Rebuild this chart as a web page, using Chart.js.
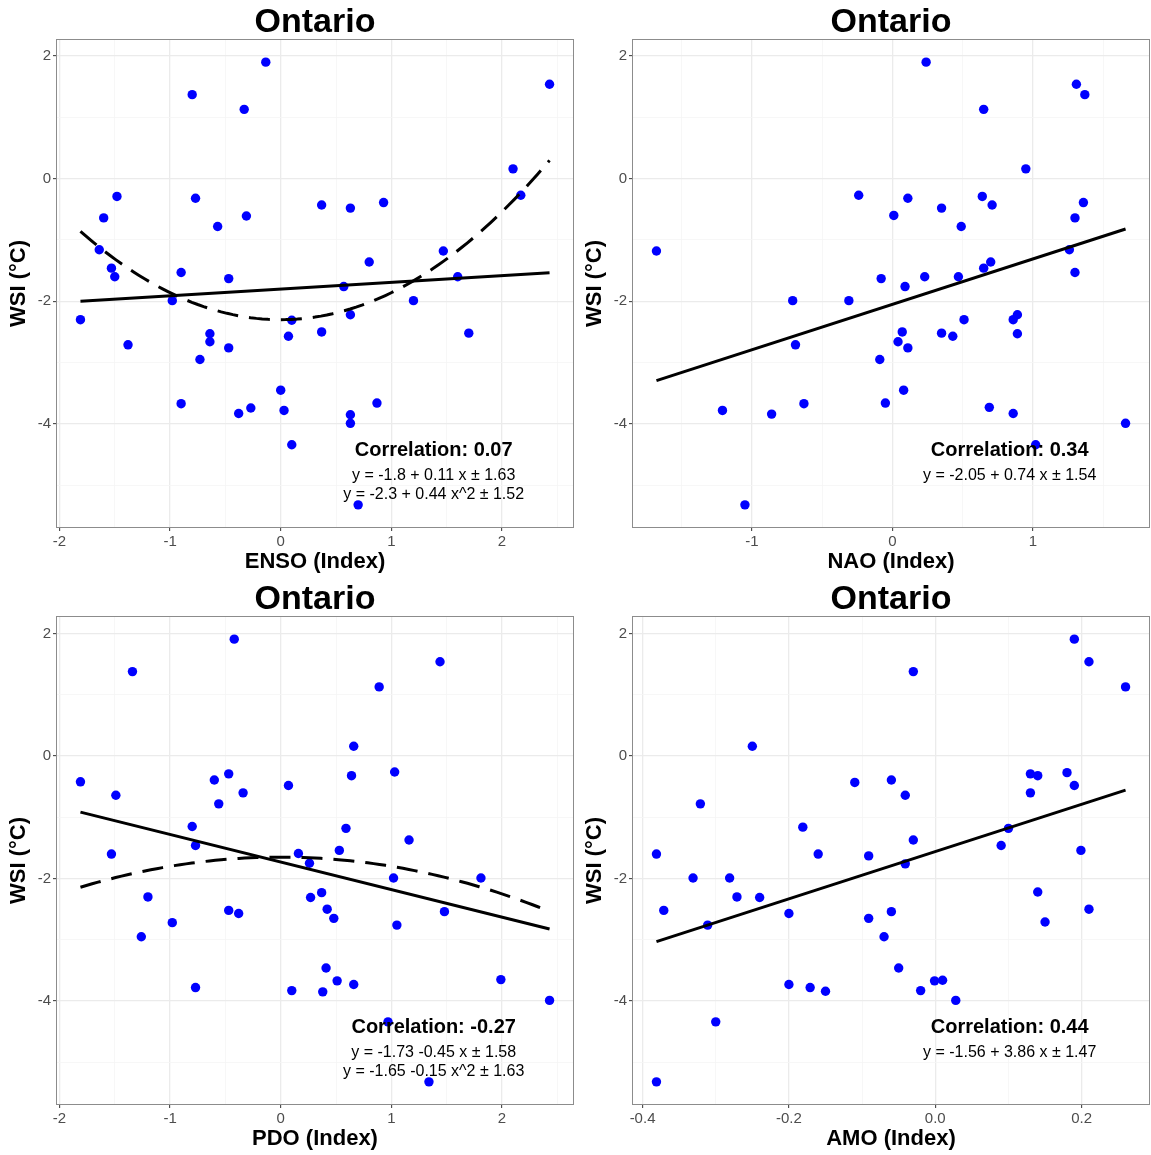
<!DOCTYPE html>
<html>
<head>
<meta charset="utf-8">
<script src="https://cdn.jsdelivr.net/npm/chart.js@4.4.1/dist/chart.umd.min.js"></script>
<style>
  body { margin: 0; background: #fff; width: 1151px; height: 1155px; position: relative; overflow: hidden; }
  .panel { position: absolute; width: 575px; height: 577px; }
</style>
</head>
<body>
<div class="panel" style="left:0;top:0"><canvas id="c-enso"></canvas></div>
<div class="panel" style="left:576px;top:0"><canvas id="c-nao"></canvas></div>
<div class="panel" style="left:0;top:577px"><canvas id="c-pdo"></canvas></div>
<div class="panel" style="left:576px;top:577px"><canvas id="c-amo"></canvas></div>
<script>
const FONT = "'Liberation Sans', Arial, sans-serif";

// ── Data ──────────────────────────────────────────────────────────────────────
const ensoX = [-0.135, -0.80, -0.33, -1.48, -1.60, -0.77, -0.31, -0.57, -1.64, -1.53, -1.50, -0.90, -0.47,
  2.43, 2.10, 2.17, 0.37, 0.63, 0.93, 1.47, 0.80, 1.60, 0.57, -1.81, -0.98, -1.38, -0.64, -0.64, -0.47,
  -0.73, 0.10, 0.07, -0.90, 0.00, -0.27, -0.38, 0.03, 0.10, 1.20, 0.63, 0.37, 1.70, 0.87, 0.63, 0.63, 0.70];
const ensoY = [1.90, 1.37, 1.13, -0.29, -0.64, -0.32, -0.61, -0.78, -1.16, -1.46, -1.60, -1.53, -1.63,
  1.54, 0.16, -0.27, -0.43, -0.48, -0.39, -1.18, -1.36, -1.60, -1.76, -2.30, -1.99, -2.71, -2.53, -2.66, -2.76,
  -2.95, -2.31, -2.57, -3.67, -3.45, -3.74, -3.83, -3.78, -4.34, -1.99, -2.22, -2.50, -2.52, -3.66, -3.85, -3.99, -5.32];

const naoX = [-0.24, -1.68, -0.08, 0.24, 0.65, 1.31, 1.37, 0.95, 0.11, 0.01, 0.35, 0.49, 0.64, 0.71, 1.30,
  1.36, 1.26, 1.30, 0.65, 0.70, 0.47, 0.23, 0.09, -0.71, -0.31, -0.69, -0.09, -0.05, -1.21, -0.86, -0.63,
  -1.05, 0.51, 0.86, 0.89, 0.89, 0.07, 0.04, 0.11, 0.35, 0.43, 0.08, 0.69, 0.86, 1.66, 1.02];
const naoY = [-0.27, -1.18, -1.63, 1.90, 1.13, 1.54, 1.37, 0.16, -0.32, -0.60, -0.48, -0.78, -0.29, -0.43, -0.64,
  -0.39, -1.16, -1.53, -1.46, -1.36, -1.60, -1.60, -1.76, -1.99, -1.99, -2.71, -2.95, -3.66, -3.78, -3.84, -3.67,
  -5.32, -2.30, -2.30, -2.22, -2.53, -2.50, -2.66, -2.76, -2.52, -2.57, -3.45, -3.73, -3.83, -3.99, -4.34];

const pdoX = [-0.42, -1.34, -1.81, -1.49, -0.60, -0.47, -0.34, -0.56, 0.07, -0.80, -0.77, -1.53, 0.16, 0.26,
  1.44, 0.89, 0.66, 0.64, 1.03, 0.59, 1.16, 0.53, 1.02, 1.81, -1.20, -0.98, -1.26, -0.47, -0.38, 0.27, 0.37,
  0.42, 0.48, 1.05, 1.48, 0.41, 0.51, 0.66, -0.77, 0.10, 0.38, 1.99, 2.43, 0.97, 1.34];
const pdoY = [1.91, 1.38, -0.42, -0.64, -0.39, -0.29, -0.60, -0.78, -0.48, -1.15, -1.46, -1.60, -1.59, -1.75,
  1.54, 1.13, 0.16, -0.32, -0.26, -1.18, -1.37, -1.54, -1.99, -1.99, -2.30, -2.72, -2.95, -2.52, -2.57, -2.31, -2.23,
  -2.50, -2.65, -2.76, -2.54, -3.46, -3.67, -3.73, -3.78, -3.83, -3.85, -3.65, -3.99, -4.34, -5.32];

const amoX = [0.190, 0.210, 0.260, -0.030, -0.250, -0.321, -0.110, -0.060, -0.041, 0.130, 0.140, 0.180, 0.130,
  0.190, -0.181, -0.030, 0.100, 0.090, -0.381, -0.160, -0.091, -0.041, 0.199, -0.331, -0.281, -0.271, -0.240,
  -0.371, -0.311, -0.200, -0.091, -0.060, -0.070, 0.140, 0.210, 0.150, -0.050, -0.200, -0.171, -0.150, -0.020,
  -0.001, 0.010, 0.028, -0.300, -0.381];
const amoY = [1.91, 1.54, 1.13, 1.38, 0.16, -0.78, -0.43, -0.39, -0.64, -0.29, -0.32, -0.27, -0.60,
  -0.48, -1.16, -1.37, -1.18, -1.46, -1.60, -1.60, -1.63, -1.76, -1.54, -1.99, -1.99, -2.30, -2.31,
  -2.52, -2.76, -2.57, -2.65, -2.54, -2.95, -2.22, -2.50, -2.71, -3.46, -3.73, -3.78, -3.84, -3.83,
  -3.67, -3.66, -3.99, -4.34, -5.32];

// fit coefficients as printed in the panels: [intercept, slope]
const ensoLin = [-1.8, 0.11],  ensoQuad = [-2.3, 0.44];
const naoLin  = [-2.05, 0.74];
const pdoLin  = [-1.73, -0.45], pdoQuad = [-1.65, -0.15];
const amoLin  = [-1.56, 3.86];

const ensoNotes = ['Correlation: 0.07', 'y = -1.8 + 0.11 x \u00b1 1.63', 'y = -2.3 + 0.44 x^2 \u00b1 1.52'];
const naoNotes  = ['Correlation: 0.34', 'y = -2.05 + 0.74 x \u00b1 1.54'];
const pdoNotes  = ['Correlation: -0.27', 'y = -1.73 -0.45 x \u00b1 1.58', 'y = -1.65 -0.15 x^2 \u00b1 1.63'];
const amoNotes  = ['Correlation: 0.44', 'y = -1.56 + 3.86 x \u00b1 1.47'];

const yTicks = [-4, -2, 0, 2];
const yTickLabels = ['-4', '-2', '0', '2'];
const ensoTicks = [-2, -1, 0, 1, 2];
const ensoTickLabels = ['-2', '-1', '0', '1', '2'];
const naoTicks = [-1, 0, 1];
const naoTickLabels = ['-1', '0', '1'];
const amoTicks = [-0.4, -0.2, 0, 0.2];
const amoTickLabels = ['-0.4', '-0.2', '0.0', '0.2'];

// ── Helpers ───────────────────────────────────────────────────────────────────
const near = (a, b) => Math.abs(a - b) < 1e-6;

function expand(vals) {
  const lo = Math.min(...vals), hi = Math.max(...vals), pad = (hi - lo) * 0.05;
  return [lo - pad, hi + pad];
}

function withMinor(major, lo, hi) {
  const step = major[1] - major[0];
  const out = [];
  for (let k = -2; k <= (major.length - 1) * 2 + 2; k++) {
    const v = Math.round((major[0] + k * step / 2) * 1000) / 1000;
    if (v >= lo && v <= hi) out.push(v);
  }
  return out;
}

function axis(major, labels, range, title, isX) {
  const all = withMinor(major, range[0], range[1]);
  const isMajor = c => c.tick && major.some(m => near(m, c.tick.value));
  return {
    type: 'linear', min: range[0], max: range[1],
    afterBuildTicks: s => { s.ticks = all.map(v => ({ value: v })); },
    afterFit: s => { if (isX) s.height = 50; else s.width = 57; },
    ticks: {
      autoSkip: false, maxRotation: 0, padding: 2, color: '#4d4d4d', font: { size: 15 },
      callback: v => { const i = major.findIndex(m => near(m, v)); return i < 0 ? '' : labels[i]; }
    },
    grid: {
      color: c => isMajor(c) ? '#ebebeb' : '#f5f5f5',
      lineWidth: c => isMajor(c) ? 1.3 : 0.8,
      tickLength: 4, tickWidth: 1,
      tickColor: c => isMajor(c) ? '#333333' : 'rgba(0,0,0,0)'
    },
    border: { display: false },
    title: {
      display: true, text: title, color: '#000',
      font: { size: 22, weight: 'bold' },
      padding: isX ? { top: 0, bottom: 2 } : { top: 6, bottom: 0 }
    }
  };
}

const notesPlugin = {
  id: 'notes',
  afterDatasetsDraw(chart, args, opts) {
    const { ctx, chartArea: a } = chart;
    const x = a.left + a.width * 0.73;
    const offs = [410, 436, 455];
    ctx.save();
    ctx.fillStyle = '#000';
    ctx.textAlign = 'center';
    ctx.textBaseline = 'middle';
    (opts.lines || []).forEach((t, i) => {
      ctx.font = (i === 0 ? 'bold 20px ' : '16px ') + FONT;
      ctx.fillText(t, x, a.top + offs[i]);
    });
    ctx.restore();
  }
};

const boxPlugin = {
  id: 'box',
  afterDraw(chart) {
    const { ctx, chartArea: a } = chart;
    ctx.save();
    ctx.strokeStyle = '#8c8c8c';
    ctx.lineWidth = 1;
    ctx.strokeRect(Math.round(a.left) - 0.5, Math.round(a.top) - 0.5, Math.round(a.width) + 1, Math.round(a.height) + 1);
    ctx.restore();
  }
};

function linePts(coef, xs) {
  const lo = Math.min(...xs), hi = Math.max(...xs);
  return [lo, hi].map(x => ({ x, y: coef[0] + coef[1] * x }));
}

function quadPts(coef, xs) {
  const lo = Math.min(...xs), hi = Math.max(...xs), n = 80, pts = [];
  for (let i = 0; i <= n; i++) {
    const x = lo + (hi - lo) * i / n;
    pts.push({ x, y: coef[0] + coef[1] * x * x });
  }
  return pts;
}

// ── Charts ────────────────────────────────────────────────────────────────────
function renderPanel(id, xs, ys, lin, quad, notes, xMajor, xLabels, xTitle) {
  const datasets = [
    {
      data: xs.map((x, i) => ({ x, y: ys[i] })),
      pointRadius: 4.7, pointBackgroundColor: '#0000ff', pointBorderWidth: 0, order: 3
    },
    {
      data: linePts(lin, xs), showLine: true, borderColor: '#000', borderWidth: 3,
      pointRadius: 0, order: 1
    }
  ];
  if (quad) datasets.push({
    data: quadPts(quad, xs), showLine: true, borderColor: '#000', borderWidth: 3,
    borderDash: [21, 11], pointRadius: 0, order: 2
  });

  new Chart(document.getElementById(id), {
    type: 'scatter',
    data: { datasets },
    options: {
      responsive: true, maintainAspectRatio: false, animation: false, events: [],
      layout: { autoPadding: false, padding: { left: 0, right: 2, top: 0, bottom: 0 } },
      scales: {
        x: axis(xMajor, xLabels, expand(xs), xTitle, true),
        y: axis(yTicks, yTickLabels, expand(ys), 'WSI (\u00b0C)', false)
      },
      plugins: {
        legend: { display: false },
        tooltip: { enabled: false },
        title: {
          display: true, text: 'Ontario', fullSize: false, color: '#000',
          font: { size: 34, weight: 'bold', lineHeight: 1 },
          padding: { top: 6, bottom: 0 }
        },
        notes: { lines: notes }
      }
    },
    plugins: [notesPlugin, boxPlugin]
  });
}

Chart.defaults.font.family = FONT;
Chart.defaults.color = '#4d4d4d';

renderPanel('c-enso', ensoX, ensoY, ensoLin, ensoQuad, ensoNotes, ensoTicks, ensoTickLabels, 'ENSO (Index)');
renderPanel('c-nao',  naoX,  naoY,  naoLin,  null,     naoNotes,  naoTicks,  naoTickLabels,  'NAO (Index)');
renderPanel('c-pdo',  pdoX,  pdoY,  pdoLin,  pdoQuad,  pdoNotes,  ensoTicks, ensoTickLabels, 'PDO (Index)');
renderPanel('c-amo',  amoX,  amoY,  amoLin,  null,     amoNotes,  amoTicks,  amoTickLabels,  'AMO (Index)');
</script>
</body>
</html>
